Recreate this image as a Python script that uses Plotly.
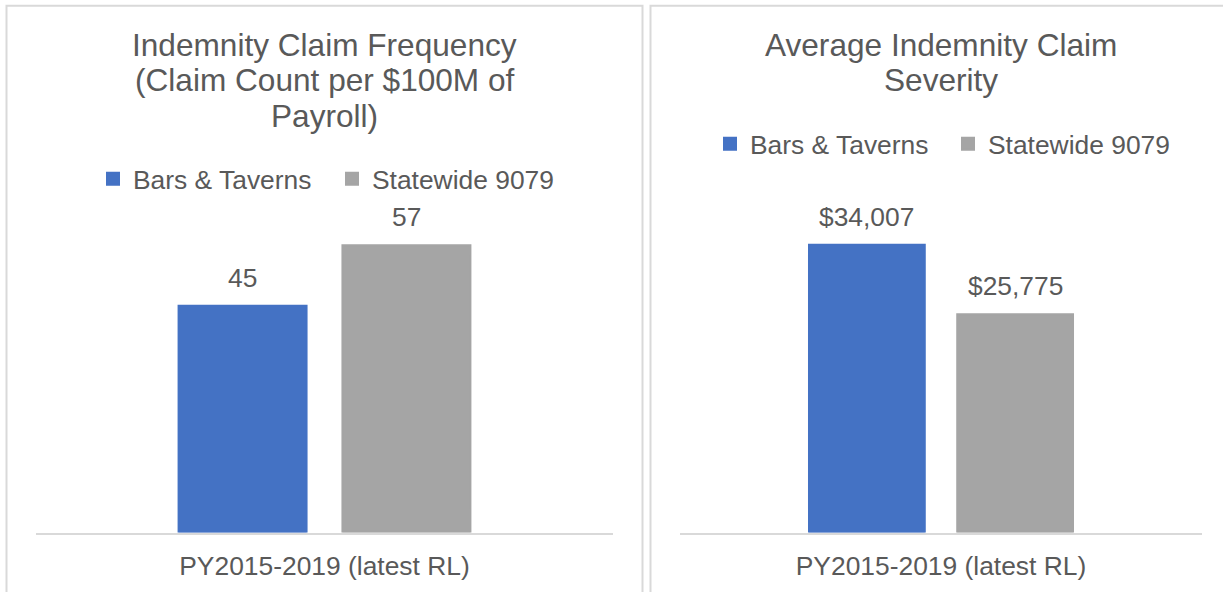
import plotly.graph_objects as go

# ---- data ----
category = ["PY2015-2019 (latest RL)"]
series_names = ["Bars & Taverns", "Statewide 9079"]
frequency_values = [45, 57]          # claim count per $100M payroll
severity_values = [34007, 25775]     # average indemnity claim severity ($)
left_title_lines = ["Indemnity Claim Frequency", "(Claim Count per $100M of", "Payroll)"]
right_title_lines = ["Average Indemnity Claim", "Severity"]

# ---- style ----
W, H = 1223, 592
colors = ["#4472C4", "#A5A5A5"]
txt = "#595959"
font_family = "Liberation Sans, Arial, sans-serif"
fs = 26.4
fs_title = 31.6
BARGAP = 0.432
BARGROUPGAP = 0.219


def px_x(p):
    return p / W


def px_y(p):
    return (H - p) / H


fig = go.Figure()

for i, name in enumerate(series_names):
    fig.add_trace(go.Bar(
        x=category, y=[frequency_values[i]], name=name,
        marker=dict(color=colors[i], line=dict(width=2, color=colors[i])),
        xaxis="x", yaxis="y", legend="legend", hoverinfo="y+name",
    ))
for i, name in enumerate(series_names):
    fig.add_trace(go.Bar(
        x=category, y=[severity_values[i]], name=name,
        marker=dict(color=colors[i], line=dict(width=2, color=colors[i])),
        xaxis="x2", yaxis="y2", legend="legend2", hoverinfo="y+name",
    ))

# data labels above each bar (positions derived from the grouped-bar geometry)
n_series = len(series_names)
slot = (1 - BARGAP) / n_series
offsets = [(-(n_series - 1) / 2 + i) * slot for i in range(n_series)]
label_font = dict(size=fs, color=txt, family=font_family)
for i, v in enumerate(frequency_values):
    fig.add_annotation(x=offsets[i], y=v, xref="x", yref="y", text=f"{v:.0f}",
                       showarrow=False, yanchor="middle", yshift=28, font=label_font)
for i, v in enumerate(severity_values):
    fig.add_annotation(x=offsets[i], y=v, xref="x2", yref="y2", text=f"${v:,.0f}",
                       showarrow=False, yanchor="middle", yshift=28, font=label_font)

axis_common = dict(
    showline=True, linecolor="#D9D9D9", linewidth=1.5,
    ticks="", showgrid=False, zeroline=False,
    tickfont=dict(size=fs, color=txt, family=font_family),
    ticklabelstandoff=9, fixedrange=True,
)
yaxis_common = dict(visible=False, showgrid=False, zeroline=False, fixedrange=True)

base_y = px_y(532.5)

fig.update_layout(
    width=W, height=H,
    margin=dict(l=0, r=0, t=0, b=0),
    paper_bgcolor="white", plot_bgcolor="white",
    font=dict(family=font_family, color=txt, size=fs),
    barmode="group", bargap=BARGAP, bargroupgap=BARGROUPGAP,
    xaxis=dict(domain=[px_x(36), px_x(613)], anchor="y", **axis_common),
    yaxis=dict(domain=[base_y, px_y(532.5 - 60 * 5.04)], range=[0, 60], anchor="x", **yaxis_common),
    xaxis2=dict(domain=[px_x(680), px_x(1202)], anchor="y2", **axis_common),
    yaxis2=dict(domain=[base_y, px_y(532.5 - 40000 * 0.008465)], range=[0, 40000], anchor="x2", **yaxis_common),
    legend=dict(orientation="h", x=px_x(93), y=px_y(179), xanchor="left", yanchor="middle",
                entrywidth=194, entrywidthmode="pixels", traceorder="normal",
                font=dict(size=fs, color=txt, family=font_family), bgcolor="rgba(0,0,0,0)"),
    legend2=dict(orientation="h", x=px_x(710), y=px_y(144), xanchor="left", yanchor="middle",
                 entrywidth=193, entrywidthmode="pixels", traceorder="normal",
                 font=dict(size=fs, color=txt, family=font_family), bgcolor="rgba(0,0,0,0)"),
    showlegend=True,
)

# panel borders
border = dict(color="#D9D9D9", width=2)
fig.add_shape(type="rect", xref="paper", yref="paper",
              x0=px_x(6.5), x1=px_x(642.5), y0=px_y(5.8), y1=px_y(620), line=border, layer="below")
fig.add_shape(type="rect", xref="paper", yref="paper",
              x0=px_x(650.5), x1=px_x(1260), y0=px_y(5.8), y1=px_y(620), line=border, layer="below")

# titles
left_centers = [46, 81, 117]
for line, yc in zip(left_title_lines, left_centers):
    fig.add_annotation(text=line, xref="paper", yref="paper", x=px_x(324.5), y=px_y(yc - 1),
                       xanchor="center", yanchor="middle", showarrow=False,
                       font=dict(size=fs_title, color=txt, family=font_family))
right_centers = [46, 81]
for line, yc in zip(right_title_lines, right_centers):
    fig.add_annotation(text=line, xref="paper", yref="paper", x=px_x(941), y=px_y(yc - 1),
                       xanchor="center", yanchor="middle", showarrow=False,
                       font=dict(size=fs_title, color=txt, family=font_family))

fig.write_html("out.html", config={"displayModeBar": False},
               post_script="document.body.style.margin='0px';document.body.style.overflow='hidden';")
